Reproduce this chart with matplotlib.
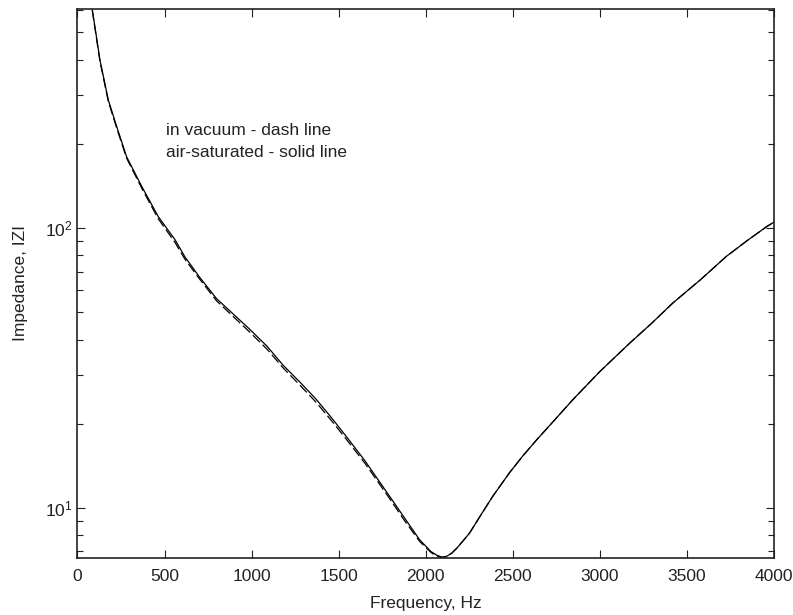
import matplotlib
matplotlib.use("Agg")
import matplotlib.pyplot as plt
from matplotlib.ticker import LogLocator, NullFormatter, MultipleLocator

plt.rcParams['font.family'] = ['Liberation Sans', 'DejaVu Sans']

# Frequency (Hz) and impedance |Z| for the air-saturated sample (solid line)
freq_air = [85, 100, 129, 177, 225, 282, 369, 464, 560, 617, 700, 799, 900, 990,
            1090, 1181, 1280, 1373, 1460, 1545, 1650, 1794, 1880, 1966, 2030,
            2065, 2095, 2120, 2150, 2180, 2220, 2253, 2320, 2385, 2483, 2560,
            2637, 2740, 2846, 3000, 3172, 3300, 3420, 3580, 3727, 3850, 3957, 4000]
z_air = [603, 525, 399, 287, 231, 180, 141, 110, 91, 79, 67, 56.0, 49.0, 43.5,
         37.8, 32.4, 28.1, 24.4, 21.0, 18.0, 14.8, 11.0, 9.2, 7.7, 7.0,
         6.78, 6.68, 6.72, 6.9, 7.2, 7.7, 8.15, 9.5, 11.0, 13.4, 15.4,
         17.5, 20.6, 24.4, 30.7, 38.8, 45.8, 54.0, 65.5, 79.2, 90.5, 101, 105]

# Vacuum sample (dashed line)
freq_vac = [85, 100, 129, 177, 225, 282, 369, 464, 560, 617, 700, 799, 900, 990,
            1090, 1181, 1280, 1373, 1460, 1545, 1650, 1794, 1880, 1966, 2030,
            2060, 2090, 2115, 2150, 2180, 2220, 2253, 2320, 2385, 2483, 2560,
            2637, 2740, 2846, 3000, 3172, 3300, 3420, 3580, 3727, 3850, 3957, 4000]
z_vac = [600, 520, 395, 284, 228, 178, 139, 108, 89, 77.5, 66, 55.0, 48.0, 42.5,
         36.9, 31.7, 27.4, 23.8, 20.5, 17.6, 14.5, 10.8, 9.0, 7.6, 6.95,
         6.75, 6.66, 6.7, 6.9, 7.2, 7.7, 8.15, 9.5, 11.0, 13.4, 15.4,
         17.5, 20.6, 24.4, 30.7, 38.8, 45.8, 54.0, 65.5, 79.2, 90.5, 101, 105]

fig = plt.figure(figsize=(7.93, 6.15), dpi=100)
ax = fig.add_axes([0.0977, 0.0932, 0.878, 0.892])

ax.plot(freq_vac, z_vac, color='black', lw=0.9, linestyle=(0, (8, 3)))
ax.plot(freq_air, z_air, color='black', lw=0.9)

ax.set_yscale('log')
ax.set_xlim(0, 4000)
ax.set_ylim(6.65, 606)
ax.xaxis.set_major_locator(MultipleLocator(500))
ax.yaxis.set_major_locator(LogLocator(base=10))
ax.yaxis.set_minor_locator(LogLocator(base=10, subs=range(2, 10)))
ax.yaxis.set_minor_formatter(NullFormatter())

ax.tick_params(which='both', direction='in', top=True, right=True,
               labelsize=12.5, colors='#222222', labelcolor='#222222')
ax.tick_params(axis='x', which='major', pad=8)
ax.tick_params(which='major', length=6, width=0.8)
ax.tick_params(which='minor', length=4, width=0.8)
for s in ax.spines.values():
    s.set_linewidth(1.2)
    s.set_color('#222222')

ax.set_xlabel('Frequency, Hz', fontsize=12.5, color='#222222', labelpad=9)
ax.set_ylabel('Impedance, IZI', fontsize=12.5, color='#222222', labelpad=12)

ax.text(508, 222.6, 'in vacuum - dash line', fontsize=12.5, va='center', ha='left', color='#222222')
ax.text(508, 185.7, 'air-saturated - solid line', fontsize=12.5, va='center', ha='left', color='#222222')

fig.savefig('out.png', dpi=100)
